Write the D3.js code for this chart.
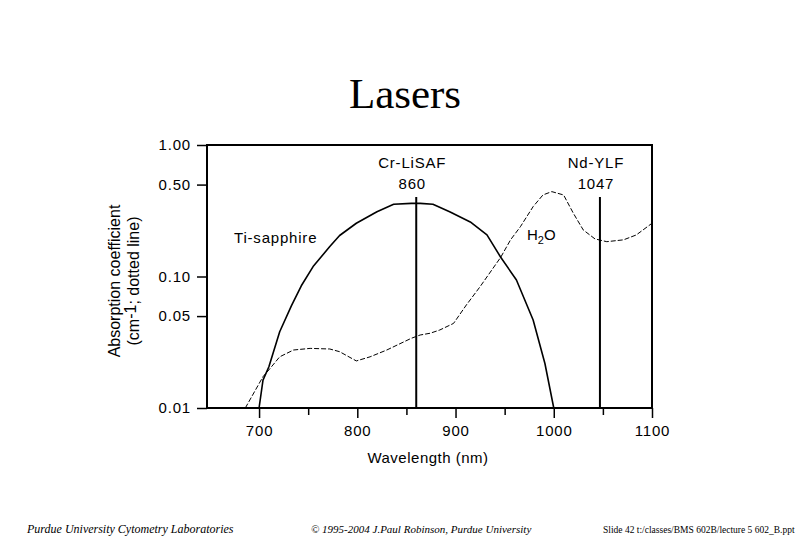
<!DOCTYPE html>
<html>
<head>
<meta charset="utf-8">
<script src="https://cdn.jsdelivr.net/npm/d3@7"></script>
<style>
  html, body { margin: 0; padding: 0; background: #fff; }
  svg { display: block; }
  .sans { font-family: Arial, "Liberation Sans", Helvetica, sans-serif; }
  .serif { font-family: "Times New Roman", "Liberation Serif", serif; }
</style>
</head>
<body>
<svg id="chart" width="810" height="540"></svg>
<script>
// ---- data ----
const tiWavelength = [700, 704, 710, 721, 733, 743, 755, 772, 782, 799, 820, 837, 855, 864, 877, 894, 915, 932, 946, 962, 979, 991, 1000];
const tiAbsorption = [0.01, 0.0163, 0.0206, 0.038, 0.06, 0.085, 0.119, 0.169, 0.205, 0.254, 0.311, 0.354, 0.36, 0.36, 0.354, 0.311, 0.26, 0.207, 0.14, 0.094, 0.0467, 0.0218, 0.01];

const h2oWavelength = [686, 704, 710, 721, 735, 752, 772, 782, 799, 813, 830, 855, 864, 874, 884, 898, 911, 925, 946, 956, 966, 979, 989, 998, 1010, 1020, 1030, 1042, 1054, 1071, 1084, 1100];
const h2oAbsorption = [0.01, 0.0173, 0.0195, 0.0245, 0.0276, 0.0284, 0.0281, 0.0268, 0.0228, 0.0245, 0.0276, 0.0339, 0.0359, 0.037, 0.0392, 0.044, 0.0607, 0.0837, 0.14, 0.19, 0.239, 0.34, 0.417, 0.442, 0.417, 0.302, 0.226, 0.193, 0.184, 0.19, 0.207, 0.254];

const laserNames = ["Cr-LiSAF", "Nd-YLF"];
const laserWavelengths = [860, 1047];

const yTickValues = [1.00, 0.50, 0.10, 0.05, 0.01];
const yTickLabels = ["1.00", "0.50", "0.10", "0.05", "0.01"];
const xMajorTicks = [700, 800, 900, 1000, 1100];
const xMinorTicks = [750, 850, 950, 1050];

// ---- layout ----
const svg = d3.select("#chart");
const plotLeft = 207, plotRight = 652, plotTop = 145, plotBottom = 408;

const x = d3.scaleLinear().domain([647, 1100]).range([plotLeft, plotRight]);
const y = d3.scaleLog().domain([0.01, 1]).range([plotBottom, plotTop]);

// Title
svg.append("text").attr("class", "serif")
  .attr("x", 405).attr("y", 108).attr("text-anchor", "middle")
  .attr("font-size", 43).text("Lasers");

// Y axis ticks
const yAxis = d3.axisLeft(y).tickValues(yTickValues)
  .tickFormat((d, i) => yTickLabels[i]).tickSize(10).tickPadding(6);
const gy = svg.append("g").attr("transform", `translate(${plotLeft},0)`).call(yAxis);
gy.select(".domain").remove();
gy.selectAll(".tick line").attr("stroke", "#000").attr("stroke-width", 1.5);
gy.selectAll(".tick text").attr("class", "sans").attr("font-size", 15)
  .attr("fill", "#000").style("letter-spacing", "0.8px");

// X axis major ticks
const xAxis = d3.axisBottom(x).tickValues(xMajorTicks).tickFormat(d3.format("d"))
  .tickSize(10).tickPadding(7);
const gx = svg.append("g").attr("transform", `translate(0,${plotBottom})`).call(xAxis);
gx.select(".domain").remove();
gx.selectAll(".tick line").attr("stroke", "#000").attr("stroke-width", 1.5);
gx.selectAll(".tick text").attr("class", "sans").attr("font-size", 15)
  .attr("fill", "#000").style("letter-spacing", "0.8px");

// X axis minor ticks
const xMinor = d3.axisBottom(x).tickValues(xMinorTicks).tickSize(7).tickFormat("");
const gxm = svg.append("g").attr("transform", `translate(0,${plotBottom})`).call(xMinor);
gxm.select(".domain").remove();
gxm.selectAll(".tick line").attr("stroke", "#000").attr("stroke-width", 1.5);

// Plot frame
svg.append("rect").attr("x", plotLeft).attr("y", plotTop)
  .attr("width", plotRight - plotLeft).attr("height", plotBottom - plotTop)
  .attr("fill", "none").attr("stroke", "#000").attr("stroke-width", 2);

// Curves
const line = d3.line().x(d => x(d[0])).y(d => y(d[1]));
const tiData = tiWavelength.map((w, i) => [w, tiAbsorption[i]]);
const h2oData = h2oWavelength.map((w, i) => [w, h2oAbsorption[i]]);

svg.append("path").datum(tiData).attr("d", line)
  .attr("fill", "none").attr("stroke", "#000").attr("stroke-width", 1.6)
  .attr("stroke-linejoin", "round");
svg.append("path").datum(h2oData).attr("d", line)
  .attr("fill", "none").attr("stroke", "#000").attr("stroke-width", 1)
  .attr("stroke-dasharray", "5,2");

// Laser lines and labels
laserWavelengths.forEach((w, i) => {
  svg.append("line").attr("x1", x(w)).attr("x2", x(w))
    .attr("y1", 197).attr("y2", plotBottom)
    .attr("stroke", "#000").attr("stroke-width", 2);
  svg.append("text").attr("class", "sans").attr("x", x(w) - 4).attr("y", 168)
    .attr("text-anchor", "middle").attr("font-size", 15)
    .style("letter-spacing", "0.8px").text(laserNames[i]);
  svg.append("text").attr("class", "sans").attr("x", x(w) - 4).attr("y", 189)
    .attr("text-anchor", "middle").attr("font-size", 15)
    .style("letter-spacing", "0.8px").text(String(w));
});

// Curve labels
svg.append("text").attr("class", "sans").attr("x", 234).attr("y", 243)
  .attr("font-size", 15).style("letter-spacing", "0.8px").text("Ti-sapphire");
const h2o = svg.append("text").attr("class", "sans").attr("x", 527).attr("y", 240)
  .attr("font-size", 15);
h2o.append("tspan").text("H");
h2o.append("tspan").attr("font-size", 11).attr("dy", 4).text("2");
h2o.append("tspan").attr("dy", -4).text("O");

// X axis title
svg.append("text").attr("class", "sans").attr("x", 428).attr("y", 463)
  .attr("text-anchor", "middle").attr("font-size", 15)
  .style("letter-spacing", "0.5px").text("Wavelength (nm)");

// Y axis title (rotated, two lines)
const yt = svg.append("g").attr("transform", "translate(0,281) rotate(-90)");
yt.append("text").attr("class", "sans").attr("x", 0).attr("y", 120)
  .attr("text-anchor", "middle").attr("font-size", 16).text("Absorption coefficient");
const yt2 = yt.append("text").attr("class", "sans").attr("x", 0).attr("y", 139)
  .attr("text-anchor", "middle").attr("font-size", 16);
yt2.append("tspan").text("(cm");
yt2.append("tspan").attr("dy", -3).text("-1");
yt2.append("tspan").attr("dy", 3).text("; dotted line)");

// Footer
svg.append("text").attr("class", "serif").attr("x", 27).attr("y", 533)
  .attr("font-size", 12).attr("font-style", "italic")
  .text("Purdue University Cytometry Laboratories");
svg.append("text").attr("class", "serif").attr("x", 311).attr("y", 533)
  .attr("font-size", 11).attr("font-style", "italic")
  .text("\u00A9  1995-2004 J.Paul Robinson, Purdue University");
svg.append("text").attr("class", "serif").attr("x", 603).attr("y", 533)
  .attr("font-size", 9.5)
  .text("Slide 42  t:/classes/BMS 602B/lecture 5 602_B.ppt");
</script>
</body>
</html>
